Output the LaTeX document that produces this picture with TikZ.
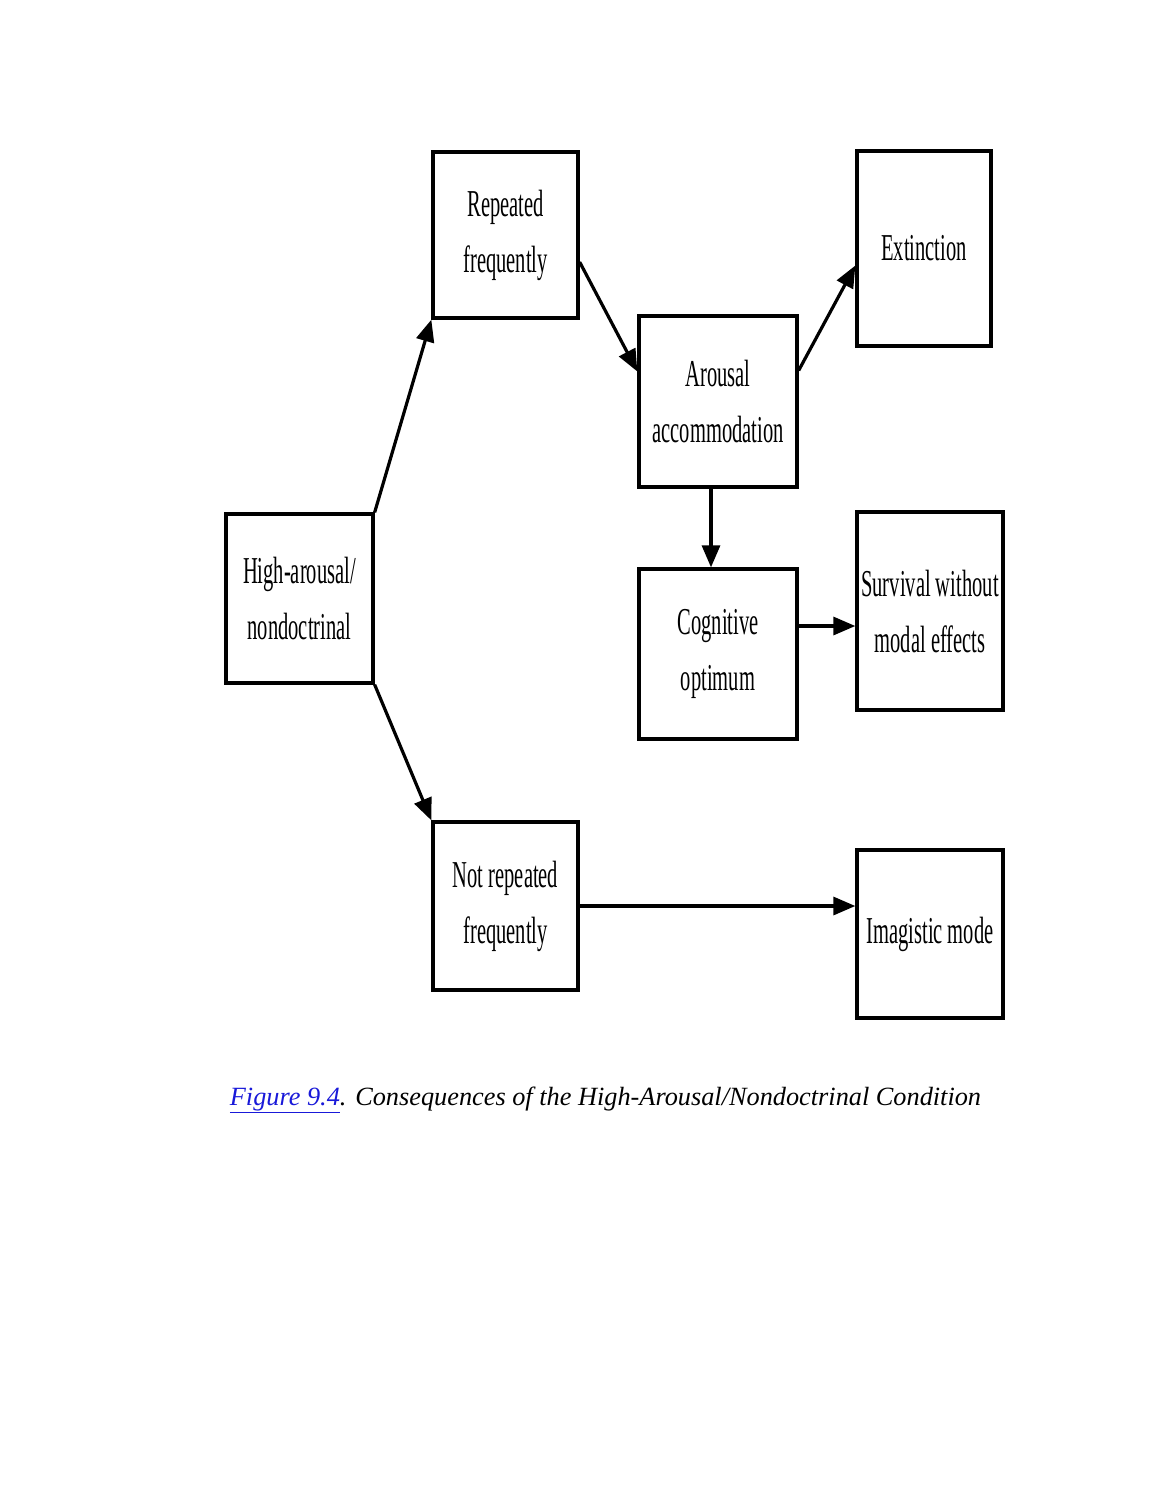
\documentclass[tikz,border=0pt]{standalone}
\usepackage{fontspec}
\usepackage{graphicx}
\setmainfont{Liberation Serif}
\usetikzlibrary{calc,arrows.meta}
\newcommand\cn[1]{\scalebox{0.54}[1]{#1}}
\tikzset{
  box/.style={draw=black, line width=3.3pt, rectangle, inner sep=0pt, align=center,
    font=\fontsize{38}{56}\selectfont},
  arr/.style={line width=3.2pt, -{Triangle[length=22pt,width=18pt]}}
}
\begin{document}
\begin{tikzpicture}[x=1pt,y=-1pt]
\useasboundingbox[fill=white] (0,0) rectangle (1159,1500);
\node[box, minimum width=145pt, minimum height=166pt] (rep) at (505.5,235) {\cn{Repeated}\\\cn{frequently}};
\node[box, minimum width=134pt, minimum height=195pt] (ext) at (924,248.5) {\cn{Extinction}};
\node[box, minimum width=158pt, minimum height=171pt] (aro) at (718,401.5) {\cn{Arousal}\\\cn{accommodation}};
\node[box, minimum width=147pt, minimum height=169pt] (high) at (299.5,598.5) {\cn{High-arousal/}\\\cn{nondoctrinal}};
\node[box, minimum width=158pt, minimum height=170pt] (cog) at (718,654) {\cn{Cognitive}\\\cn{optimum}};
\node[box, minimum width=146pt, minimum height=198pt] (surv) at (930,611) {\cn{Survival without}\\\cn{modal effects}};
\node[box, minimum width=145pt, minimum height=168pt] (nr) at (505.5,906) {\cn{Not repeated}\\\cn{frequently}};
\node[box, minimum width=146pt, minimum height=168pt] (img) at (930,934) {\cn{Imagistic mode}};

\draw[arr] (high.north east) -- (rep.south west);
\draw[arr] (high.south east) -- (nr.north west);
\draw[arr] ($(rep.east)+(0,27)$) -- ($(aro.west)+(0,-30)$);
\draw[arr] ($(aro.east)+(0,-31)$) -- ($(ext.west)+(0,17)$);
\draw[arr] ($(aro.south)+(-7,0)$) -- ($(cog.north)+(-7,0)$);
\draw[arr] ($(cog.east)+(0,-28)$) -- ($(surv.west)+(0,15)$);
\draw[arr] (nr.east) -- (nr.east -| img.west);

\node[font=\fontsize{26.3}{30}\selectfont\itshape, anchor=center] (cap) at (605.5,1100)
  {\textcolor[rgb]{0.1,0.1,0.85}{\underline{Figure 9.4}}. Consequences of the High-Arousal/Nondoctrinal Condition};
\end{tikzpicture}
\end{document}
